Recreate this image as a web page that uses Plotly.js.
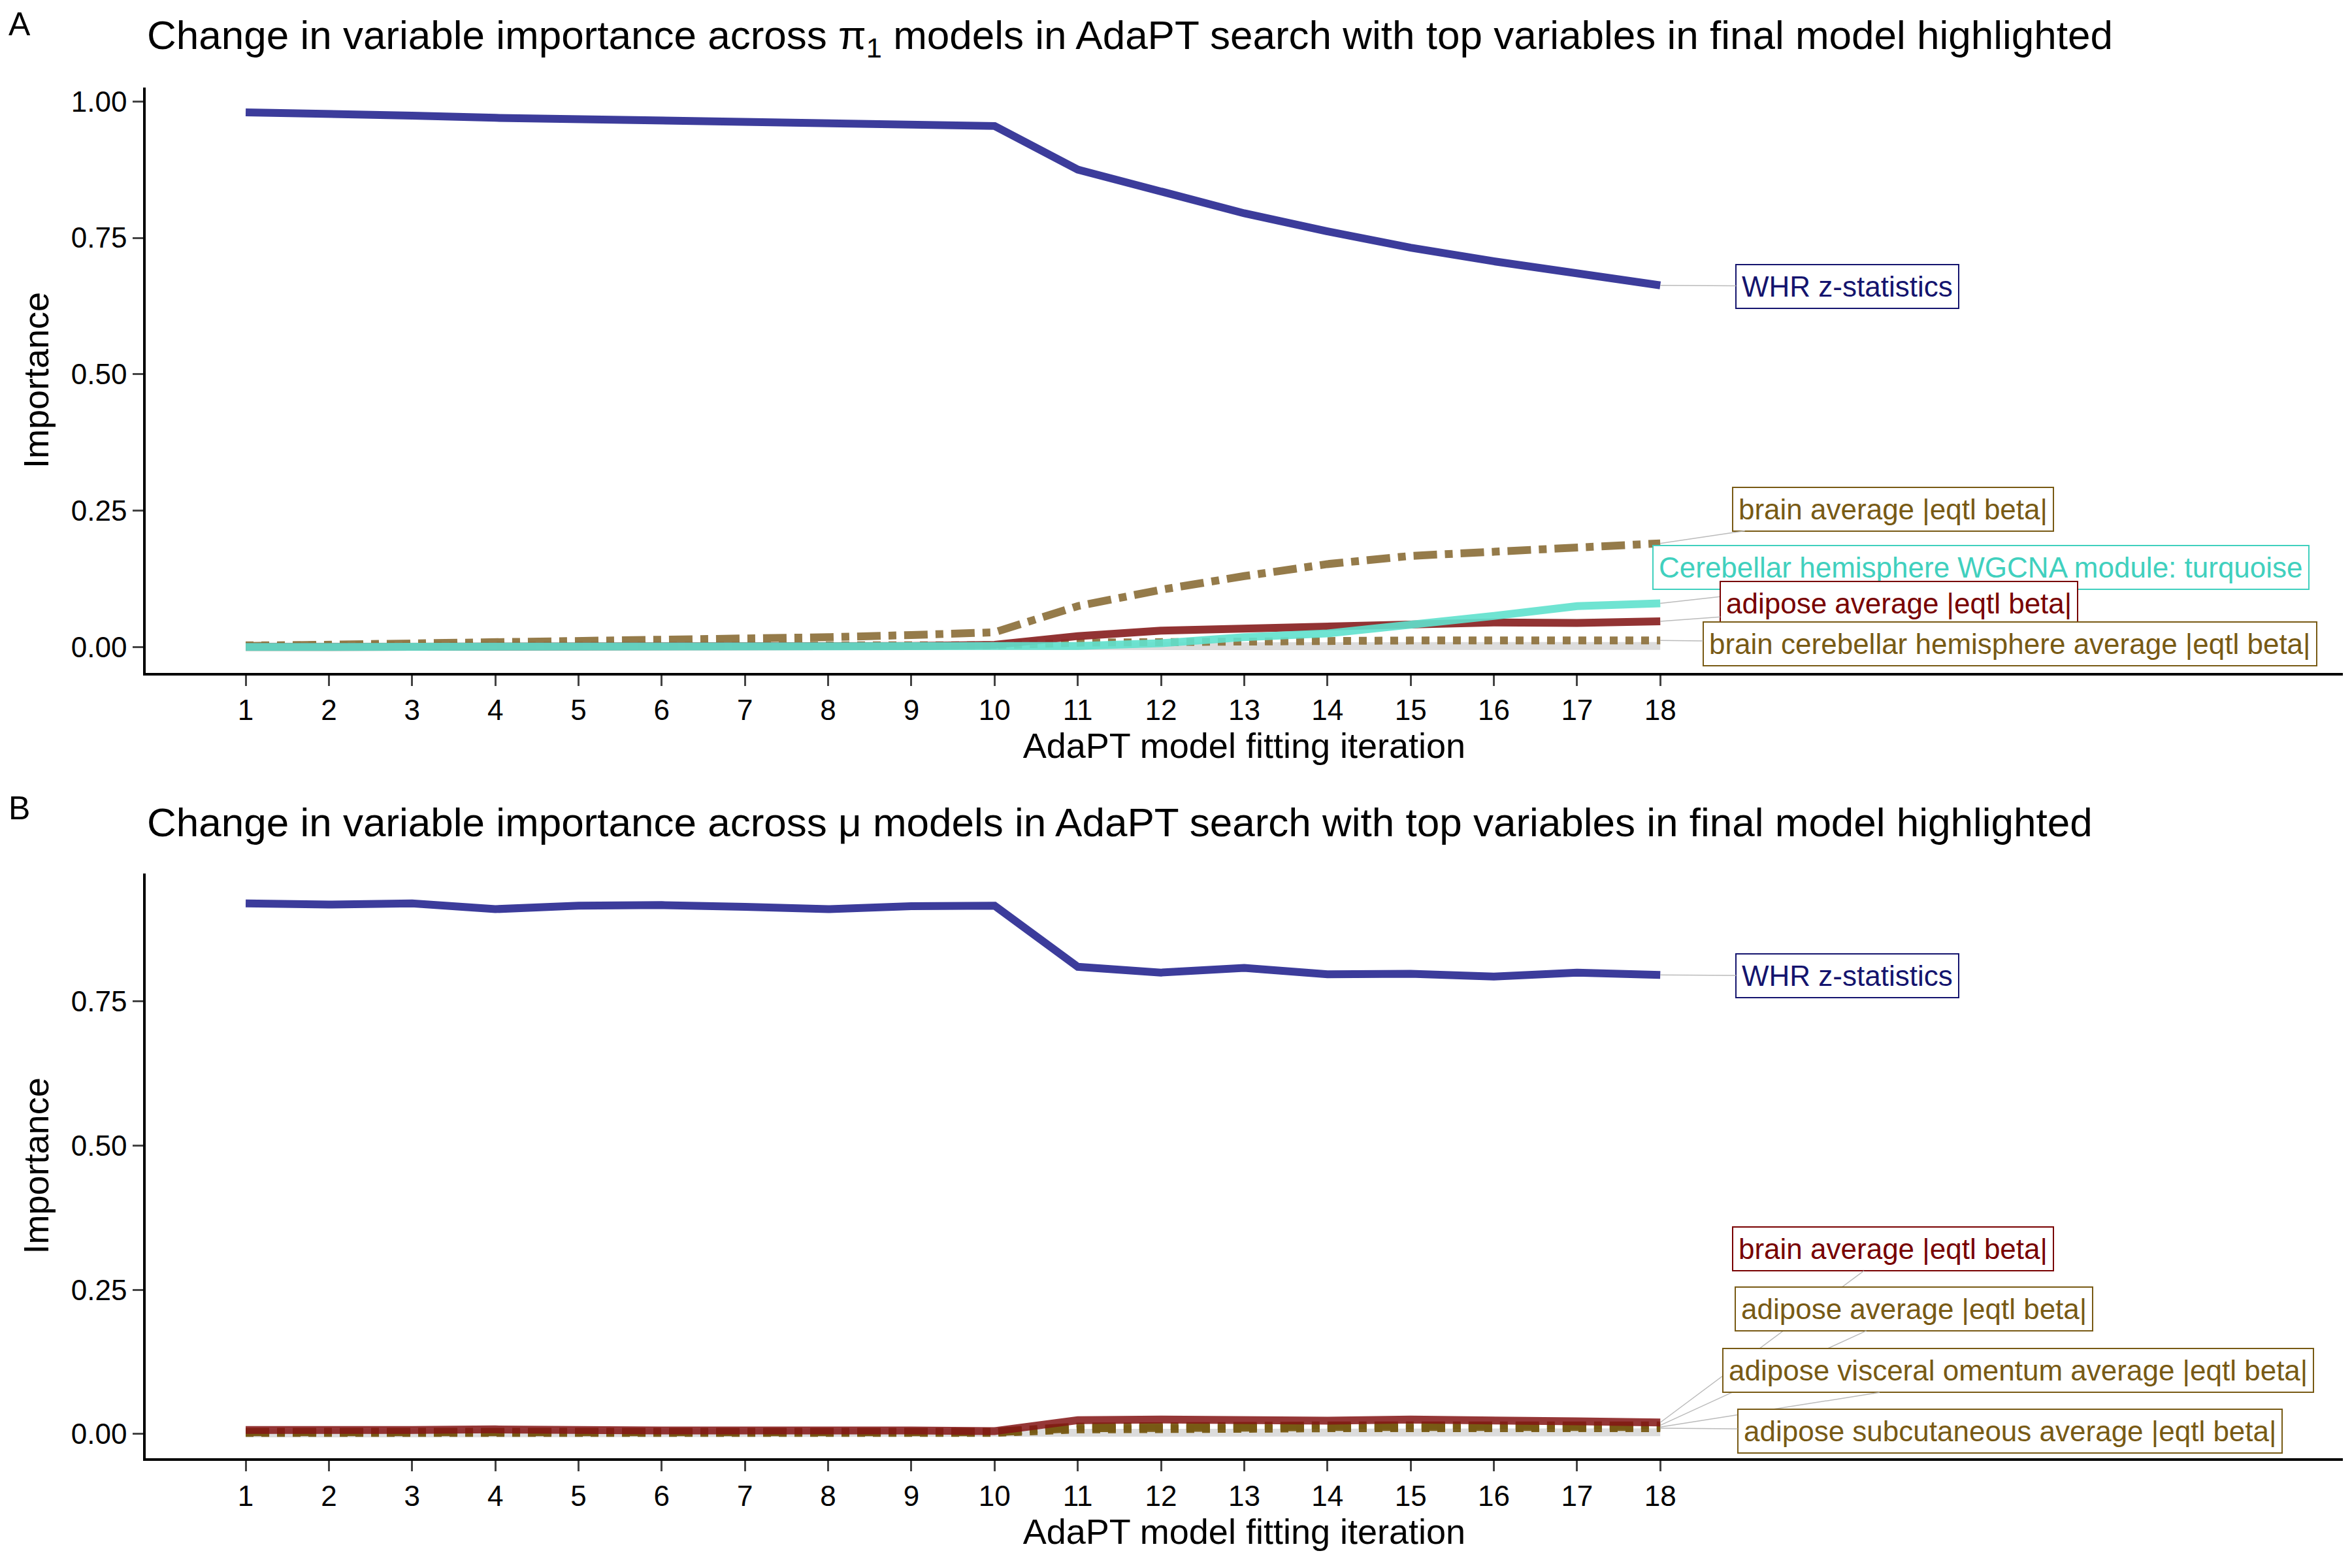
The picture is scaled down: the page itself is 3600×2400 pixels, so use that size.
<!DOCTYPE html>
<html>
<head>
<meta charset="utf-8">
<script src="https://cdn.plot.ly/plotly-3.0.1.min.js"></script>
<style>body{margin:0}#chart{width:3600px;height:2400px}</style>
</head>
<body>
<div id="chart"></div>
<script>
var iter = [1,2,3,4,5,6,7,8,9,10,11,12,13,14,15,16,17,18];

// panel A (pi1 models)
var aWhr = [0.980,0.978,0.974,0.970,0.967,0.965,0.963,0.961,0.958,0.955,0.875,0.835,0.795,0.762,0.732,0.707,0.684,0.663];
var aBrain = [0.002,0.004,0.006,0.008,0.010,0.012,0.015,0.018,0.022,0.027,0.075,0.105,0.130,0.152,0.167,0.175,0.180,0.190];
var aAdipose = [0,0,0,0,0,0,0,0.001,0.002,0.004,0.020,0.030,0.034,0.039,0.043,0.045,0.044,0.047];
var aTurq = [0,0,0,0,0,0,0,0,0,0,0.002,0.007,0.018,0.025,0.040,0.057,0.075,0.080];
var aCereb = [0.003,0.003,0.003,0.003,0.003,0.003,0.003,0.003,0.003,0.003,0.008,0.010,0.011,0.011,0.012,0.012,0.012,0.012];
var aGrey = [0.001,0.001,0.001,0.001,0.001,0.001,0.001,0.001,0.001,0.001,0.002,0.002,0.002,0.002,0.002,0.002,0.002,0.002];

// panel B (mu models)
var bWhr = [0.920,0.918,0.920,0.910,0.916,0.917,0.914,0.910,0.915,0.916,0.810,0.800,0.808,0.797,0.798,0.793,0.800,0.796];
var bBrain = [0.007,0.006,0.007,0.008,0.006,0.006,0.006,0.007,0.006,0.005,0.024,0.025,0.023,0.023,0.025,0.022,0.022,0.020];
var bAdipose = [0.004,0.004,0.004,0.004,0.004,0.004,0.004,0.004,0.004,0.004,0.013,0.015,0.014,0.015,0.016,0.015,0.015,0.015];
var bVisceral = [0.003,0.003,0.003,0.003,0.003,0.003,0.003,0.003,0.003,0.003,0.010,0.012,0.011,0.012,0.013,0.012,0.012,0.012];
var bSubcut = [0.002,0.002,0.002,0.002,0.002,0.002,0.002,0.002,0.002,0.002,0.008,0.010,0.009,0.010,0.011,0.010,0.010,0.010];
var bGrey = [0.001,0.001,0.001,0.001,0.001,0.001,0.001,0.001,0.001,0.001,0.003,0.003,0.003,0.003,0.003,0.003,0.003,0.003];

var navy = 'rgb(50,50,150)', gold = 'rgb(143,116,64)', red = 'rgb(140,40,40)', turq = 'rgb(95,225,205)';
var W = 12;

function tr(y, color, dash, ax, op) {
  return {x: iter, y: y, xaxis: 'x' + ax, yaxis: 'y' + ax, type: 'scatter', mode: 'lines',
    line: {color: color, width: W, dash: dash}, opacity: op || 0.95, showlegend: false, hoverinfo: 'none'};
}

var data = [
  tr(aGrey, 'rgb(220,220,220)', 'solid', '', 1),
  tr(aCereb, gold, 'dot', ''),
  tr(aBrain, gold, 'dashdot', ''),
  tr(aAdipose, red, 'solid', ''),
  tr(aTurq, turq, 'solid', '', 0.9),
  tr(aWhr, navy, 'solid', ''),
  tr(bGrey, 'rgb(220,220,220)', 'solid', '2', 1),
  tr(bSubcut, 'rgb(120,90,20)', 'dot', '2'),
  tr(bVisceral, 'rgb(120,90,20)', 'dash', '2'),
  tr(bAdipose, 'rgb(120,90,20)', 'dashdot', '2'),
  tr(bBrain, 'rgb(130,20,20)', 'solid', '2', 0.85),
  tr(bWhr, navy, 'solid', '2')
];

var font = {family: 'Liberation Sans, Arial, sans-serif', color: 'black'};

function xax(anchor) {
  return {domain: [0.062, 0.996], range: [-0.2, 26.2], anchor: anchor, tickvals: iter,
    showline: true, linecolor: 'black', linewidth: 4, ticks: 'outside', ticklen: 16, tickwidth: 3,
    showgrid: false, zeroline: false, tickfont: {size: 44, family: font.family, color: 'black'},
    title: {text: 'AdaPT model fitting iteration', font: {size: 54, family: font.family, color: 'black'}, standoff: 8}};
}
function yax(anchor, dom, rng, tv) {
  return {domain: dom, range: rng, anchor: anchor, tickvals: tv, ticktext: tv.map(function(v){return v.toFixed(2);}),
    showline: true, linecolor: 'black', linewidth: 4, ticks: 'outside', ticklen: 16, tickwidth: 3,
    showgrid: false, zeroline: false, tickfont: {size: 44, family: font.family, color: 'black'},
    title: {text: 'Importance', font: {size: 54, family: font.family, color: 'black'}, standoff: 18}};
}

function lab(text, xr, yr, px, py, tx, ty, col, bcol) {
  return {text: text, xref: xr, yref: yr, x: px, y: py, axref: xr, ayref: yr, ax: tx, ay: ty,
    showarrow: true, arrowhead: 0, arrowwidth: 1.5, arrowcolor: 'rgba(180,180,180,0.9)', standoff: 0,
    font: {size: 44, family: font.family, color: col}, bgcolor: 'white', bordercolor: bcol || col,
    borderwidth: 2, borderpad: 8};
}

var layout = {
  width: 3600, height: 2400, paper_bgcolor: 'white', plot_bgcolor: 'white',
  margin: {l: 0, r: 0, t: 0, b: 0}, font: font,
  xaxis: xax('y'), yaxis: yax('x', [0.571, 0.944], [-0.047, 1.025], [0, 0.25, 0.5, 0.75, 1]),
  xaxis2: xax('y2'), yaxis2: yax('x2', [0.070, 0.443], [-0.042, 0.972], [0, 0.25, 0.5, 0.75]),
  annotations: [
    {text: 'A', xref: 'paper', yref: 'paper', x: 0.003, y: 0.997, xanchor: 'left', yanchor: 'top', showarrow: false, font: {size: 50}},
    {text: 'B', xref: 'paper', yref: 'paper', x: 0.003, y: 0.497, xanchor: 'left', yanchor: 'top', showarrow: false, font: {size: 50}},
    {text: 'Change in variable importance across π<sub>1</sub> models in AdaPT search with top variables in final model highlighted',
      xref: 'paper', yref: 'paper', x: 0.062, y: 0.993, xanchor: 'left', yanchor: 'top', showarrow: false, font: {size: 62}},
    {text: 'Change in variable importance across μ models in AdaPT search with top variables in final model highlighted',
      xref: 'paper', yref: 'paper', x: 0.062, y: 0.491, xanchor: 'left', yanchor: 'top', showarrow: false, font: {size: 62}},
    lab('WHR z-statistics', 'x', 'y', 18, aWhr[17], 20.25, 0.661, 'rgb(20,20,110)'),
    lab('brain average |eqtl beta|', 'x', 'y', 18, aBrain[17], 20.8, 0.253, 'rgb(120,90,20)'),
    lab('Cerebellar hemisphere WGCNA module: turquoise', 'x', 'y', 18, aTurq[17], 21.85, 0.146, 'rgb(64,208,190)'),
    lab('adipose average |eqtl beta|', 'x', 'y', 18, aAdipose[17], 20.87, 0.080, 'rgb(120,0,0)'),
    lab('brain cerebellar hemisphere average |eqtl beta|', 'x', 'y', 18, aCereb[17], 22.2, 0.006, 'rgb(120,90,20)'),
    lab('WHR z-statistics', 'x2', 'y2', 18, bWhr[17], 20.25, 0.794, 'rgb(20,20,110)'),
    lab('brain average |eqtl beta|', 'x2', 'y2', 18, bBrain[17], 20.8, 0.321, 'rgb(120,0,0)'),
    lab('adipose average |eqtl beta|', 'x2', 'y2', 18, bAdipose[17], 21.05, 0.217, 'rgb(120,90,20)'),
    lab('adipose visceral omentum average |eqtl beta|', 'x2', 'y2', 18, bVisceral[17], 22.3, 0.110, 'rgb(120,90,20)'),
    lab('adipose subcutaneous average |eqtl beta|', 'x2', 'y2', 18, bSubcut[17], 22.2, 0.005, 'rgb(120,90,20)')
  ]
};

Plotly.newPlot('chart', data, layout, {staticPlot: true});
</script>
</body>
</html>
